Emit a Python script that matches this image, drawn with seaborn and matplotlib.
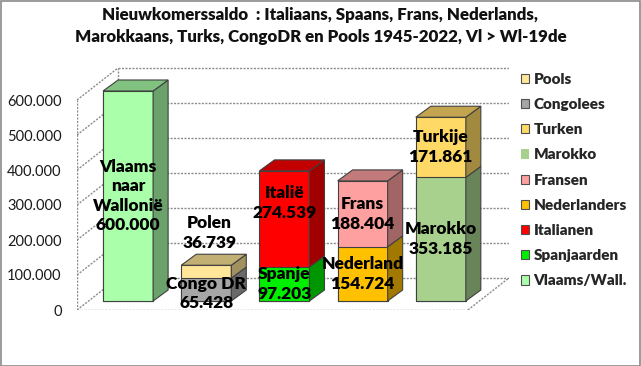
import numpy as np
import pandas as pd
import matplotlib
matplotlib.use("Agg")
import matplotlib.pyplot as plt
import matplotlib.transforms as mtransforms
from matplotlib.patches import Patch, Polygon, Rectangle
from matplotlib.colors import to_rgb
import seaborn as sns

# ---------------- data ----------------
title = ("Nieuwkomerssaldo  : Italiaans, Spaans, Frans, Nederlands,\n"
         "Marokkaans, Turks, CongoDR en Pools 1945-2022, Vl > Wl-19de")
categories = ["Vlaams", "Congo/Polen", "Spanje/Italië", "Nederland/Frans", "Marokko/Turkije"]

series = ["Vlaams/Wall.", "Spanjaarden", "Italianen", "Nederlanders", "Fransen",
          "Marokko", "Turken", "Congolees", "Pools"]
series_colors = ["#AAFFAA", "#00EE00", "#FF0000", "#FFC000", "#FFA0A0",
                 "#A9D18E", "#FFD966", "#A6A6A6", "#FFE699"]

lower_series = ["Vlaams/Wall.", "Congolees", "Spanjaarden", "Nederlanders", "Marokko"]
lower_values = [600000, 65428, 97203, 154724, 353185]
lower_labels = ["Vlaams\nnaar\nWallonië\n600.000", "Congo DR\n65.428", "Spanje\n97.203",
                "Nederland\n154.724", "Marokko\n353.185"]

upper_series = ["Vlaams/Wall.", "Pools", "Italianen", "Fransen", "Turken"]
upper_values = [0, 36739, 274539, 188404, 171861]
upper_labels = ["", "Polen\n36.739", "Italië\n274.539", "Frans\n188.404", "Turkije\n171.861"]

yticks = [0, 100000, 200000, 300000, 400000, 500000, 600000]
ytick_labels = ["0", "100.000", "200.000", "300.000", "400.000", "500.000", "600.000"]

# ---------------- style ----------------
sns.set_style("white")
plt.rcParams["font.family"] = ["Lato", "DejaVu Sans"]

color_of = dict(zip(series, series_colors))

def shade(c, f):
    r, g, b = to_rgb(c)
    return (r * f, g * f, b * f)

W, H, DPI = 6.41, 3.66, 100
fig = plt.figure(figsize=(W, H), dpi=DPI)
fig.patch.set_facecolor("white")

# axes geometry in pixels
px_left, px_bottom_from_top = 77, 310
XMIN, YMAX = -0.5, 700000
px_per_x = 78.18
px_per_y = 0.00035
DXB = 41 / px_per_x        # back wall depth offset (x)
DYB = 32 / px_per_y        # back wall depth offset (y)
DDX = 15 / px_per_x        # bar depth (x)
DDY = 11 / px_per_y        # bar depth (y)
BW = 0.64                  # bar width
XMAX = len(categories) - 0.5 + DXB
ax_w = (XMAX - XMIN) * px_per_x
ax_h = YMAX * px_per_y
ax = fig.add_axes([px_left / (W * DPI), (H * DPI - px_bottom_from_top) / (H * DPI),
                   ax_w / (W * DPI), ax_h / (H * DPI)])
ax.set_facecolor("none")

# ---------------- bars (front faces) ----------------
totals = [lo + up for lo, up in zip(lower_values, upper_values)]
df_top = pd.DataFrame({"cat": categories, "value": totals, "ser": upper_series})
df_low = pd.DataFrame({"cat": categories, "value": lower_values, "ser": lower_series})

sns.barplot(data=df_top, x="cat", y="value", hue="cat",
            palette={c: color_of[s] for c, s in zip(categories, upper_series)},
            width=BW, saturation=1, edgecolor="#404040", linewidth=0.8,
            legend=False, ax=ax, zorder=3)
sns.barplot(data=df_low, x="cat", y="value", hue="cat",
            palette={c: color_of[s] for c, s in zip(categories, lower_series)},
            width=BW, saturation=1, edgecolor="#404040", linewidth=0.8,
            legend=False, ax=ax, zorder=3)

# bars stand a bit inside the floor depth
off = mtransforms.offset_copy(ax.transData, fig=fig, x=12, y=9, units="dots")
for p in ax.patches:
    p.set_transform(off)

# ---------------- 3D side and top faces ----------------
for i in range(len(categories)):
    segs = [(0, lower_values[i], color_of[lower_series[i]])]
    if upper_values[i] > 0:
        segs.append((lower_values[i], totals[i], color_of[upper_series[i]]))
    xr = i + BW / 2
    for b, t, c in segs:
        side = Polygon([(xr, b), (xr + DDX, b + DDY), (xr + DDX, t + DDY), (xr, t)],
                       closed=True, facecolor=shade(c, 0.63), edgecolor="#404040",
                       linewidth=0.8, transform=off, zorder=3)
        ax.add_patch(side)
    T = totals[i]
    topc = segs[-1][2]
    top = Polygon([(i - BW / 2, T), (i + BW / 2, T), (i + BW / 2 + DDX, T + DDY),
                   (i - BW / 2 + DDX, T + DDY)], closed=True,
                  facecolor=shade(topc, 0.76), edgecolor="#404040", linewidth=0.8,
                  transform=off, zorder=3)
    ax.add_patch(top)

# ---------------- walls, floor, gridlines ----------------
gkw = dict(color="#8c8c8c", linewidth=1.0, linestyle=(0, (1.5, 1)), zorder=1)
x0 = -0.5
x1 = len(categories) - 0.5
for t in yticks:
    ax.plot([x0 + DXB, x1 + DXB], [t + DYB, t + DYB], **gkw)
    ax.plot([x0, x0 + DXB], [t, t + DYB], **gkw)
ax.plot([x0, x0], [0, yticks[-1]], **gkw)
ax.plot([x0 + DXB, x0 + DXB], [DYB, yticks[-1] + DYB], **gkw)
ax.plot([x0, x1], [0, 0], **gkw)
ax.plot([x1, x1 + DXB], [0, DYB], **gkw)

# ---------------- labels ----------------
lbl_kw = dict(ha="center", va="center", fontsize=12.5, fontweight="heavy",
              color="black", zorder=6, linespacing=1.28)
lower_extra = [(0, 0), (0, -4), (0, 0), (0, 0), (0, 0)]
upper_extra = [(0, 0), (3, 0), (0, 16), (0, 0), (0, 0)]
for i in range(len(categories)):
    ex, ey = lower_extra[i]
    tr = mtransforms.offset_copy(ax.transData, fig=fig, x=12 + ex, y=9 + ey, units="dots")
    ax.text(i, lower_values[i] / 2, lower_labels[i], transform=tr, **lbl_kw)
    if upper_values[i] > 0:
        ex, ey = upper_extra[i]
        if upper_labels[i].startswith("Polen"):
            tr = mtransforms.offset_copy(ax.transData, fig=fig, x=12 + ex, y=9 + 32, units="dots")
            ax.text(i, totals[i], upper_labels[i], transform=tr, **lbl_kw)
        else:
            tr = mtransforms.offset_copy(ax.transData, fig=fig, x=12 + ex, y=9 + ey, units="dots")
            ax.text(i, lower_values[i] + upper_values[i] / 2, upper_labels[i],
                    transform=tr, **lbl_kw)

# ---------------- axes cosmetics ----------------
ax.set_xlim(XMIN, XMAX)
ax.set_ylim(0, YMAX)
ax.set_xticks([])
ax.set_yticks(yticks, ytick_labels)
ax.tick_params(axis="y", length=3.6, width=0.8, color="#8c8c8c", pad=7.5,
               labelsize=10.5, labelcolor="#1a1a1a")
ax.set_xlabel("")
ax.set_ylabel("")
for s in ax.spines.values():
    s.set_visible(False)

# ---------------- legend ----------------
handles = []
for s in reversed(series):
    handles.append(Patch(facecolor=color_of[s],
                         edgecolor="none" if s == "Marokko" else "#505050",
                         linewidth=0.8, label=s))
fig.legend(handles=handles, loc="upper left", bbox_to_anchor=(510 / 641, 1 - 62 / 366),
           bbox_transform=fig.transFigure, frameon=False,
           prop=dict(weight="heavy", size=11), handlelength=0.55, handleheight=0.55,
           handletextpad=0.3, labelspacing=0.8, borderpad=0.2)

# ---------------- title & border ----------------
fig.text(0.5, 1 - 7 / 366, title, ha="center", va="top", fontsize=12.2,
         fontweight="heavy", color="#111111", linespacing=1.45)
fig.add_artist(Rectangle((0.5 / 641, 0.5 / 366), 1 - 1.5 / 641, 1 - 1.0 / 366,
                         transform=fig.transFigure, fill=False,
                         edgecolor="#8a8a8a", linewidth=1.2))

fig.savefig("out.png", dpi=DPI)
